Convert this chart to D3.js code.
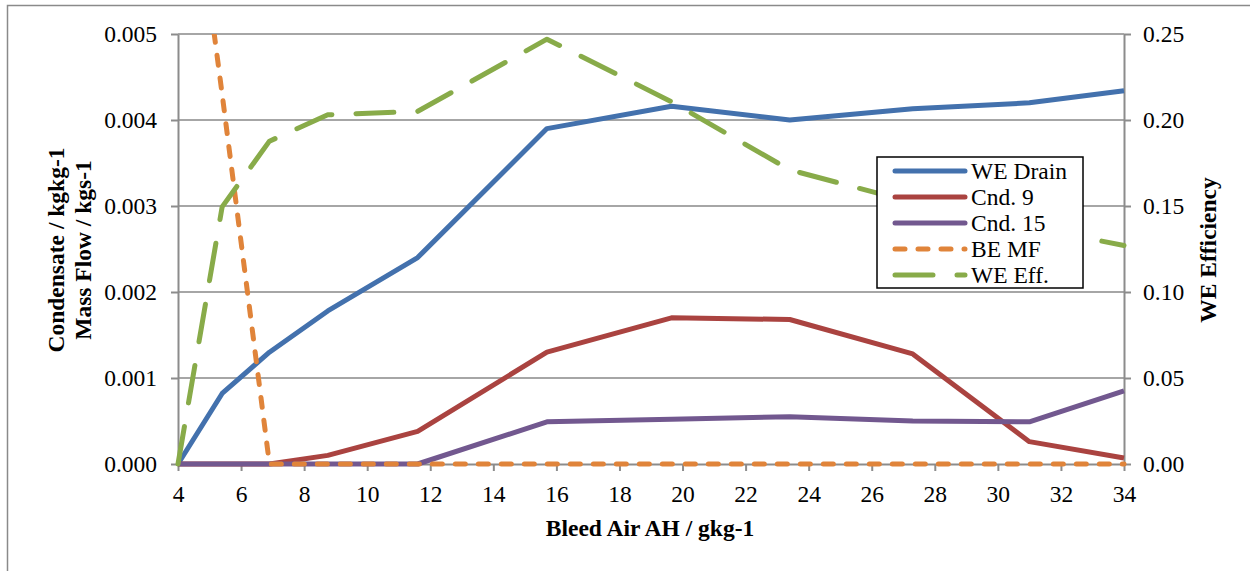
<!DOCTYPE html>
<html>
<head>
<meta charset="utf-8">
<script src="https://cdn.jsdelivr.net/npm/d3@7"></script>
<style>
  body { margin: 0; background: #fff; }
  svg { display: block; }
  svg text { font-family: "Liberation Serif", "Times New Roman", serif; }
</style>
</head>
<body>
<div id="chart"></div>
<script>
// bleed air absolute humidity (g/kg)
const xAH = [4.0, 5.4, 6.9, 8.75, 11.6, 15.7, 19.65, 23.4, 27.3, 31.0, 34.0];

// left axis series (kg/kg, kg/s)
const weDrain = [0, 0.00082, 0.0013, 0.00178, 0.0024, 0.0039, 0.00416, 0.0040, 0.00413, 0.0042, 0.00434];
const cnd9 = [0, 0, 0, 0.0001, 0.00038, 0.0013, 0.0017, 0.00168, 0.00128, 0.00026, 0.00007];
const cnd15 = [0, 0, 0, 0, 0, 0.00049, 0.00052, 0.00055, 0.0005, 0.00049, 0.00085];
const beMF = [0.0082, 0.0043, 0, 0, 0, 0, 0, 0, 0, 0, 0];

// right axis series
const weEff = [0, 0.1495, 0.1877, 0.203, 0.205, 0.247, 0.2106, 0.171, 0.152, 0.138, 0.127];

const xTicks = [4, 6, 8, 10, 12, 14, 16, 18, 20, 22, 24, 26, 28, 30, 32, 34];
const yLeftTicks = [0, 0.001, 0.002, 0.003, 0.004, 0.005];
const yRightTicks = [0, 0.05, 0.10, 0.15, 0.20, 0.25];

const W = 1250, H = 571;
const plotLeft = 178, plotRight = 1124, plotTop = 34, plotBottom = 464;
const gridColor = "#a6a6a6";
const axisColor = "#8c8c8c";
const FS = 23.5;

const svg = d3.select("#chart").append("svg")
    .attr("width", W)
    .attr("height", H);

// outer chart frame (only top/left edges visible)
svg.append("rect")
    .attr("x", 7.5).attr("y", 5.5)
    .attr("width", 1400).attr("height", 900)
    .attr("fill", "none")
    .attr("stroke", "#8a8a8a")
    .attr("stroke-width", 1.5);

const x = d3.scaleLinear().domain([4, 34]).range([plotLeft, plotRight]);
const yL = d3.scaleLinear().domain([0, 0.005]).range([plotBottom, plotTop]);
const yR = d3.scaleLinear().domain([0, 0.25]).range([plotBottom, plotTop]);

// gridlines
svg.append("g")
    .selectAll("line")
    .data(yLeftTicks.slice(1))
    .enter()
    .append("line")
    .attr("x1", plotLeft).attr("x2", plotRight)
    .attr("y1", d => yL(d)).attr("y2", d => yL(d))
    .attr("stroke", gridColor)
    .attr("stroke-width", 2);

// axes
const axisStyle = g => {
    g.attr("font-family", null).attr("font-size", null);
    g.select(".domain").attr("stroke", axisColor).attr("stroke-width", 2);
    g.selectAll(".tick line").attr("stroke", axisColor).attr("stroke-width", 2);
    g.selectAll(".tick text")
        .attr("fill", "#000")
        .style("font-size", FS + "px");
};

svg.append("g")
    .attr("transform", `translate(0,${plotBottom})`)
    .call(d3.axisBottom(x).tickValues(xTicks).tickSize(7).tickSizeOuter(0).tickPadding(14))
    .call(axisStyle);

svg.append("g")
    .attr("transform", `translate(${plotLeft},0)`)
    .call(d3.axisLeft(yL).tickValues(yLeftTicks).tickFormat(d3.format(".3f")).tickSize(7).tickSizeOuter(0).tickPadding(14))
    .call(axisStyle);

svg.append("g")
    .attr("transform", `translate(${plotRight},0)`)
    .call(d3.axisRight(yR).tickValues(yRightTicks).tickFormat(d3.format(".2f")).tickSize(7).tickSizeOuter(0).tickPadding(12))
    .call(axisStyle);

// axis titles
svg.append("text")
    .attr("x", 650).attr("y", 536)
    .attr("text-anchor", "middle")
    .attr("font-weight", "bold")
    .style("font-size", FS + "px")
    .text("Bleed Air AH / gkg-1");

const leftTitle = svg.append("text")
    .attr("transform", "translate(64,250) rotate(-90)")
    .attr("text-anchor", "middle")
    .attr("font-weight", "bold")
    .style("font-size", FS + "px");
leftTitle.append("tspan").attr("x", 0).attr("y", 0).text("Condensate / kgkg-1");
leftTitle.append("tspan").attr("x", 0).attr("y", 27).text("Mass Flow / kgs-1");

svg.append("text")
    .attr("transform", "translate(1216,250) rotate(-90)")
    .attr("text-anchor", "middle")
    .attr("font-weight", "bold")
    .style("font-size", FS + "px")
    .text("WE Efficiency");

// clip to plot area
svg.append("clipPath").attr("id", "plot-clip")
    .append("rect")
    .attr("x", plotLeft - 5).attr("y", plotTop)
    .attr("width", plotRight - plotLeft + 10).attr("height", plotBottom - plotTop + 5);

const series = [
    {name: "WE Drain", values: weDrain, y: yL, color: "#4371ad", dash: null},
    {name: "Cnd. 9", values: cnd9, y: yL, color: "#aa4340", dash: null},
    {name: "Cnd. 15", values: cnd15, y: yL, color: "#72588f", dash: null},
    {name: "BE MF", values: beMF, y: yL, color: "#e0843a", dash: "10 13"},
    {name: "WE Eff.", values: weEff, y: yR, color: "#88ab49", dash: "38 24"}
];

const plot = svg.append("g").attr("clip-path", "url(#plot-clip)");

series.forEach(s => {
    const line = d3.line()
        .x((d, i) => x(xAH[i]))
        .y(d => s.y(d));
    plot.append("path")
        .datum(s.values)
        .attr("d", line)
        .attr("fill", "none")
        .attr("stroke", s.color)
        .attr("stroke-width", 5)
        .attr("stroke-linejoin", "round")
        .attr("stroke-linecap", s.dash ? "round" : "butt")
        .attr("stroke-dasharray", s.dash);
});

// legend
const legend = svg.append("g").attr("transform", "translate(877,157)");
legend.append("rect")
    .attr("x", 0).attr("y", 0)
    .attr("width", 206).attr("height", 131)
    .attr("fill", "#fff")
    .attr("stroke", "#000")
    .attr("stroke-width", 1.5);

legend.selectAll("line")
    .data(series)
    .enter()
    .append("line")
    .attr("x1", 18).attr("x2", 88)
    .attr("y1", (d, i) => 14 + i * 26)
    .attr("y2", (d, i) => 14 + i * 26)
    .attr("stroke", d => d.color)
    .attr("stroke-width", 5)
    .attr("stroke-linecap", "round")
    .attr("stroke-dasharray", d => d.dash);

legend.selectAll("text")
    .data(series)
    .enter()
    .append("text")
    .attr("x", 94)
    .attr("y", (d, i) => 21.5 + i * 26)
    .style("font-size", FS + "px")
    .text(d => d.name);
</script>
</body>
</html>
